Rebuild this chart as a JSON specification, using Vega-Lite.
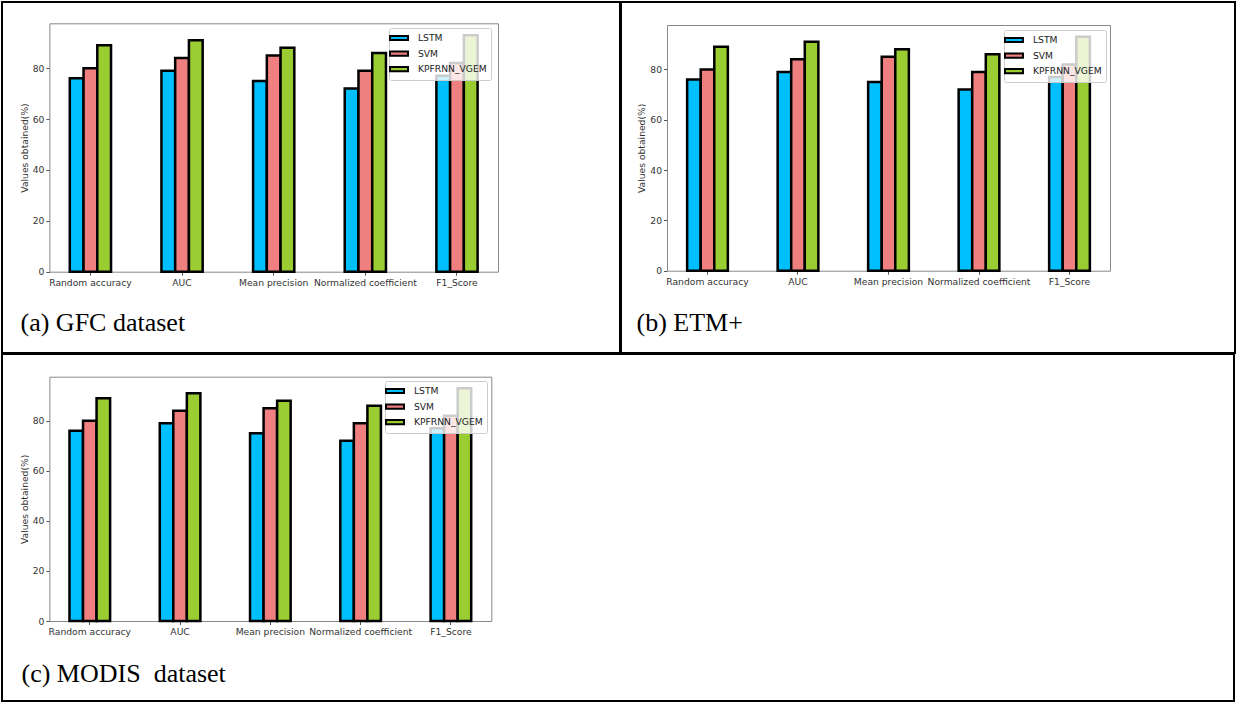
{
  "$schema": "https://vega.github.io/schema/vega-lite/v6.json",
  "background": "white",
  "padding": {"left": 1, "top": 1, "right": 0, "bottom": 0},
  "config": {
    "view": {"stroke": "black", "strokeWidth": 2, "fill": "white"},
    "axis": {
      "labelFont": "DejaVu Sans", "labelFontSize": 9.2, "labelColor": "#333",
      "tickColor": "#555", "tickSize": 3.5, "domainColor": "#888", "domainWidth": 1,
      "titleFont": "DejaVu Sans", "titleFontSize": 9.2, "titleFontWeight": "normal", "titleColor": "#333",
      "grid": false
    },
    "legend": {
      "title": null, "orient": "none",
      "symbolType": "M-1.8,-0.42H1.8V0.42H-1.8Z", "symbolSize": 100,
      "symbolStrokeColor": "black", "symbolStrokeWidth": 2, "symbolOpacity": 1,
      "labelFont": "DejaVu Sans", "labelFontSize": 9.2, "labelColor": "#222",
      "labelOffset": 13, "rowPadding": 1.6, "padding": 4,
      "strokeColor": "#cccccc", "fillColor": "rgba(255,255,255,0.8)", "cornerRadius": 2
    }
  },
  "datasets": {
    "bars": [
      {"metric": "Random accuracy", "model": "LSTM", "value": 76},
      {"metric": "Random accuracy", "model": "SVM", "value": 80},
      {"metric": "Random accuracy", "model": "KPFRNN_VGEM", "value": 89},
      {"metric": "AUC", "model": "LSTM", "value": 79},
      {"metric": "AUC", "model": "SVM", "value": 84},
      {"metric": "AUC", "model": "KPFRNN_VGEM", "value": 91},
      {"metric": "Mean precision", "model": "LSTM", "value": 75},
      {"metric": "Mean precision", "model": "SVM", "value": 85},
      {"metric": "Mean precision", "model": "KPFRNN_VGEM", "value": 88},
      {"metric": "Normalized coefficient", "model": "LSTM", "value": 72},
      {"metric": "Normalized coefficient", "model": "SVM", "value": 79},
      {"metric": "Normalized coefficient", "model": "KPFRNN_VGEM", "value": 86},
      {"metric": "F1_Score", "model": "LSTM", "value": 77},
      {"metric": "F1_Score", "model": "SVM", "value": 82},
      {"metric": "F1_Score", "model": "KPFRNN_VGEM", "value": 93}
    ]
  },
  "data": {"name": "bars"},
  "spacing": -2,
  "resolve": {
    "scale": {"x": "independent", "y": "independent", "color": "independent", "xOffset": "independent"},
    "axis": {"x": "independent", "y": "independent"},
    "legend": {"color": "independent"}
  },
  "vconcat": [
    {
      "spacing": -2,
      "resolve": {
        "scale": {"x": "independent", "y": "independent", "color": "independent", "xOffset": "independent"},
        "axis": {"x": "independent", "y": "independent"},
        "legend": {"color": "independent"}
      },
      "hconcat": [
        {
          "width": 618, "height": 351,
          "layer": [
            {
              "mark": {"type": "bar", "stroke": "black", "strokeWidth": 2.5},
              "encoding": {
                "x": {"field": "metric", "type": "nominal",
                  "sort": ["Random accuracy", "AUC", "Mean precision", "Normalized coefficient", "F1_Score"],
                  "scale": {"range": [47.4, 496], "paddingInner": 0.55, "paddingOuter": 0.2225},
                  "axis": {"orient": "bottom", "offset": -81.3, "labelAngle": 0, "labelPadding": 3, "labelOverlap": false, "labelLimit": 300,
                    "title": "(a) GFC dataset", "titleFont": "Liberation Serif", "titleFontSize": 26, "titleColor": "black",
                    "titleAlign": "left", "titleBaseline": "alphabetic", "titleX": 18, "titleY": 58.3}},
                "xOffset": {"field": "model", "type": "nominal", "sort": ["LSTM", "SVM", "KPFRNN_VGEM"]},
                "y": {"field": "value", "type": "quantitative", "stack": null,
                  "scale": {"domain": [0, 97.65], "range": [269.7, 21.3], "nice": false},
                  "axis": {"orient": "left", "offset": -47.4, "values": [0, 20, 40, 60, 80], "title": "Values obtained(%)", "titlePadding": 3}},
                "color": {"field": "model", "type": "nominal",
                  "scale": {"domain": ["LSTM", "SVM", "KPFRNN_VGEM"], "range": ["#00BFFF", "#F08080", "#9ACD32"]},
                  "legend": {"legendX": 387, "legendY": 26}}
              }
            },
            {
              "mark": {"type": "bar", "opacity": 0},
              "encoding": {
                "x": {"field": "metric", "type": "nominal",
                  "sort": ["Random accuracy", "AUC", "Mean precision", "Normalized coefficient", "F1_Score"],
                  "axis": {"orient": "top", "offset": -21.3, "labels": false, "ticks": false, "title": null}},
                "y": {"field": "value", "type": "quantitative", "stack": null,
                  "axis": {"orient": "right", "offset": -122, "labels": false, "ticks": false, "title": null}}
              }
            }
          ],
          "resolve": {"axis": {"x": "independent", "y": "independent"}}
        },
        {
          "width": 614, "height": 351,
          "layer": [
            {
              "mark": {"type": "bar", "stroke": "black", "strokeWidth": 2.5},
              "encoding": {
                "x": {"field": "metric", "type": "nominal",
                  "sort": ["Random accuracy", "AUC", "Mean precision", "Normalized coefficient", "F1_Score"],
                  "scale": {"range": [46, 489], "paddingInner": 0.55, "paddingOuter": 0.2225},
                  "axis": {"orient": "bottom", "offset": -82.3, "labelAngle": 0, "labelPadding": 3, "labelOverlap": false, "labelLimit": 300,
                    "title": "(b) ETM+", "titleFont": "Liberation Serif", "titleFontSize": 26, "titleColor": "black",
                    "titleAlign": "left", "titleBaseline": "alphabetic", "titleX": 15, "titleY": 59.3}},
                "xOffset": {"field": "model", "type": "nominal", "sort": ["LSTM", "SVM", "KPFRNN_VGEM"]},
                "y": {"field": "value", "type": "quantitative", "stack": null,
                  "scale": {"domain": [0, 97.65], "range": [268.7, 23], "nice": false},
                  "axis": {"orient": "left", "offset": -46, "values": [0, 20, 40, 60, 80], "title": "Values obtained(%)", "titlePadding": 3}},
                "color": {"field": "model", "type": "nominal",
                  "scale": {"domain": ["LSTM", "SVM", "KPFRNN_VGEM"], "range": ["#00BFFF", "#F08080", "#9ACD32"]},
                  "legend": {"legendX": 383, "legendY": 28}}
              }
            },
            {
              "mark": {"type": "bar", "opacity": 0},
              "encoding": {
                "x": {"field": "metric", "type": "nominal",
                  "sort": ["Random accuracy", "AUC", "Mean precision", "Normalized coefficient", "F1_Score"],
                  "axis": {"orient": "top", "offset": -23, "labels": false, "ticks": false, "title": null}},
                "y": {"field": "value", "type": "quantitative", "stack": null,
                  "axis": {"orient": "right", "offset": -125, "labels": false, "ticks": false, "title": null}}
              }
            }
          ],
          "resolve": {"axis": {"x": "independent", "y": "independent"}}
        }
      ]
    },
    {
      "width": 1232, "height": 347,
      "layer": [
        {
          "mark": {"type": "bar", "stroke": "black", "strokeWidth": 2.5},
          "encoding": {
            "x": {"field": "metric", "type": "nominal",
              "sort": ["Random accuracy", "AUC", "Mean precision", "Normalized coefficient", "F1_Score"],
              "scale": {"range": [47.4, 489.3], "paddingInner": 0.55, "paddingOuter": 0.2225},
              "axis": {"orient": "bottom", "offset": -80, "labelAngle": 0, "labelPadding": 3, "labelOverlap": false, "labelLimit": 300,
                "title": "(c) MODIS\u00a0 dataset", "titleFont": "Liberation Serif", "titleFontSize": 26, "titleColor": "black",
                "titleAlign": "left", "titleBaseline": "alphabetic", "titleX": 19, "titleY": 60}},
            "xOffset": {"field": "model", "type": "nominal", "sort": ["LSTM", "SVM", "KPFRNN_VGEM"]},
            "y": {"field": "value", "type": "quantitative", "stack": null,
              "scale": {"domain": [0, 97.65], "range": [267, 22.7], "nice": false},
              "axis": {"orient": "left", "offset": -47.4, "values": [0, 20, 40, 60, 80], "title": "Values obtained(%)", "titlePadding": 3}},
            "color": {"field": "model", "type": "nominal",
              "scale": {"domain": ["LSTM", "SVM", "KPFRNN_VGEM"], "range": ["#00BFFF", "#F08080", "#9ACD32"]},
              "legend": {"legendX": 383, "legendY": 27}}
          }
        },
        {
          "mark": {"type": "bar", "opacity": 0},
          "encoding": {
            "x": {"field": "metric", "type": "nominal",
              "sort": ["Random accuracy", "AUC", "Mean precision", "Normalized coefficient", "F1_Score"],
              "axis": {"orient": "top", "offset": -22.7, "labels": false, "ticks": false, "title": null}},
            "y": {"field": "value", "type": "quantitative", "stack": null,
              "axis": {"orient": "right", "offset": -742.7, "labels": false, "ticks": false, "title": null}}
          }
        }
      ],
      "resolve": {"axis": {"x": "independent", "y": "independent"}}
    }
  ]
}
